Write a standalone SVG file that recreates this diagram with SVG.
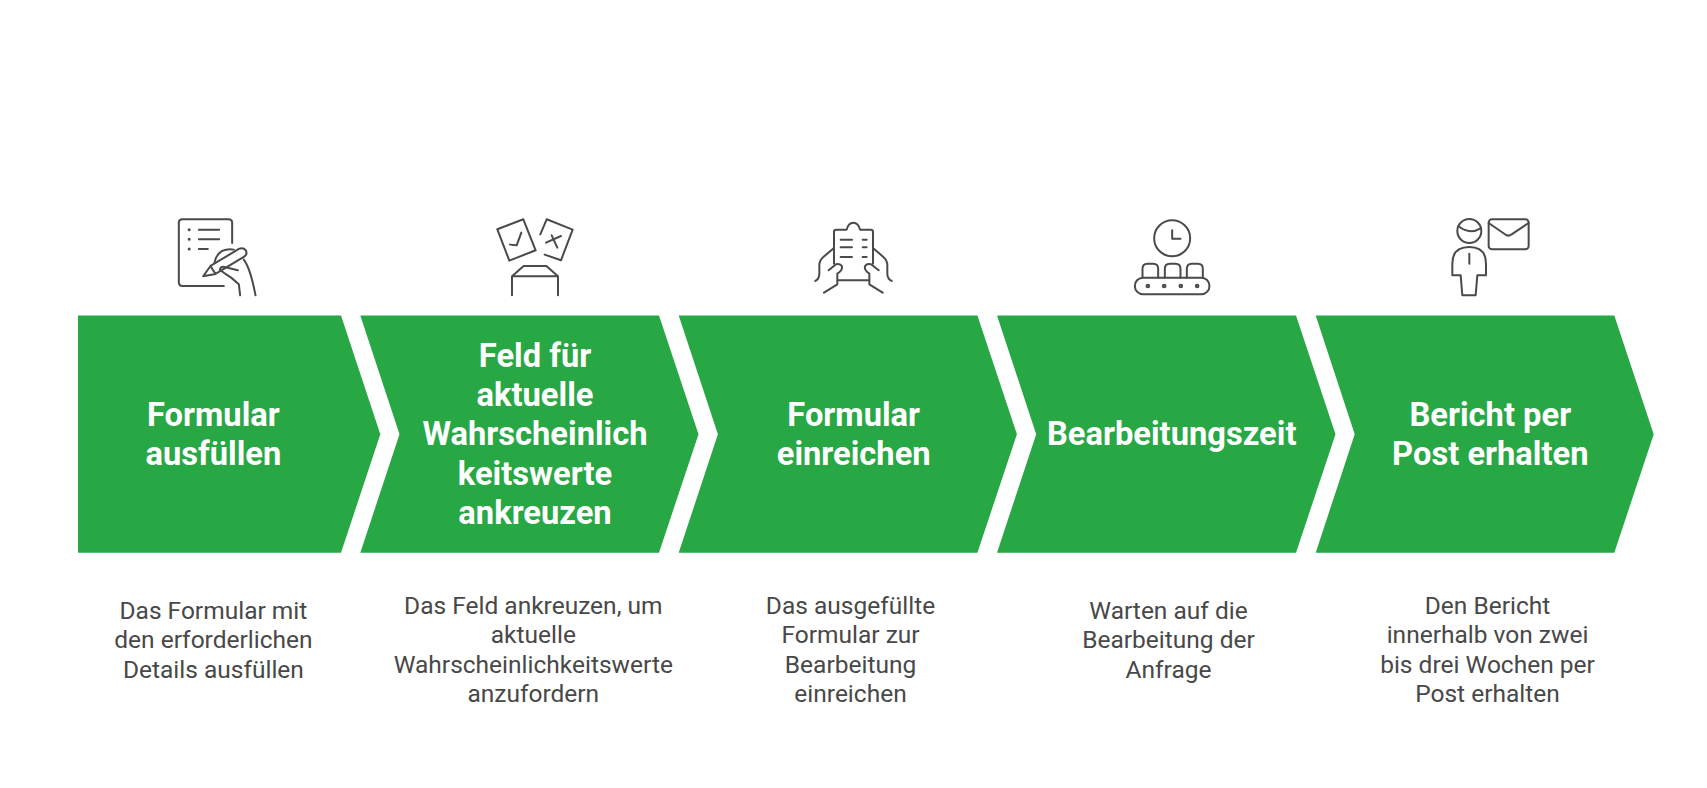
<svg xmlns="http://www.w3.org/2000/svg" width="1707" height="788" viewBox="0 0 1707 788">
<style>
.bg{fill:#fff}
.c{fill:#28a745}
.t{font-family:Roboto,"Liberation Sans",sans-serif;font-size:32.7px;font-weight:700;fill:#fff;text-anchor:middle}
.d{font-family:Roboto,"Liberation Sans",sans-serif;font-size:24.5px;fill:#484848;text-anchor:middle}
.i{fill:none;stroke:#4a4a4a;stroke-width:6;stroke-linecap:round;stroke-linejoin:round}
.dot{stroke-width:9}
</style>
<rect class="bg" width="1707" height="788"/>
<g id="connectors"/>
<g id="node1">
<path class="c" d="M78 315.500H341L380.300 434.300L341 552.700H78Z"/>
<g class="i" transform="translate(160.500 200.300) scale(.3333)">
<path d="M215 128V68Q215 57 204 57H66Q55 57 55 68V246Q55 257 66 257H190"/>
<path class="dot" d="M86 88h.1M86 117h.1M86 146h.1"/>
<path d="M115 88H176M115 117H176M115 146H142"/>
<path d="M128 228L150 197L235 146Q248 140 256 150Q262 162 250 170L165 221ZM150 197L165 221"/>
<path d="M162 188Q165 165 185 152Q200 145 220 148M178 208Q180 198 192 200L232 210M180 210Q195 222 212 232L235 252L239 285M250 178Q270 205 285 285"/>
</g>
<text class="t" x="213.400" y="425.500">Formular</text>
<text class="t" x="213.400" y="465">ausfüllen</text>
<text class="d" x="213.400" y="618.500">Das Formular mit</text>
<text class="d" x="213.400" y="648">den erforderlichen</text>
<text class="d" x="213.400" y="677.500">Details ausfüllen</text>
</g>
<g id="node2">
<path class="c" d="M360.300 315.500H659L698.500 434.300L659 552.700H360.300L399.500 434.300Z"/>
<g class="i" transform="translate(480 200.300) scale(.3333)">
<path d="M52 87L130 57L167 150L88 181Z"/>
<path d="M90 133L110 135L124 97"/>
<path d="M181 102L200 57L278 88L243 180L194 163"/>
<path d="M198 127L243 107M215 105L232 142"/>
<path d="M96 285V228H234V285M96 228L131 197H199L234 228"/>
</g>
<text class="t" x="535" y="366.500">Feld für</text>
<text class="t" x="535" y="405.800">aktuelle</text>
<text class="t" x="535" y="445">Wahrscheinlich</text>
<text class="t" x="535" y="484.500">keitswerte</text>
<text class="t" x="535" y="523.500">ankreuzen</text>
<text class="d" x="533.300" y="613.700">Das Feld ankreuzen, um</text>
<text class="d" x="533.300" y="643.200">aktuelle</text>
<text class="d" x="533.300" y="672.700">Wahrscheinlichkeitswerte</text>
<text class="d" x="533.300" y="702.200">anzufordern</text>
</g>
<g id="node3">
<path class="c" d="M678.700 315.500H977.400L1016.900 434.300L977.400 552.700H678.700L717.900 434.300Z"/>
<g class="i" transform="translate(800 200.300) scale(.3333)">
<path d="M102 190V95Q102 88 109 88H140Q145 67 160 67Q175 67 180 88H212Q219 88 219 95V190M113 240H208"/>
<path d="M122 118H156M122 141H156M122 170H156M188 118H200M188 141H200M188 170H200"/>
<path d="M102 143L70 170Q58 180 58 195V220Q58 235 46 242M86 210L108 192Q120 188 126 198Q128 210 112 220V252L72 277"/>
<path d="M219 143L250 170Q262 180 262 195V220Q262 235 275 242M236 210L213 192Q200 188 195 198Q192 210 208 220V252L248 277"/>
</g>
<text class="t" x="853.700" y="425.500">Formular</text>
<text class="t" x="853.700" y="465">einreichen</text>
<text class="d" x="850.500" y="613.700">Das ausgefüllte</text>
<text class="d" x="850.500" y="643.200">Formular zur</text>
<text class="d" x="850.500" y="672.700">Bearbeitung</text>
<text class="d" x="850.500" y="702.200">einreichen</text>
</g>
<g id="node4">
<path class="c" d="M997 315.500H1296L1335.500 434.300L1296 552.700H997L1036.200 434.300Z"/>
<g class="i" transform="translate(1115.500 200.300) scale(.3333)">
<circle cx="170" cy="114" r="54"/>
<path d="M170 90V115H195"/>
<path d="M81 232V205Q81 190 96 190H113Q128 190 128 205V232M148 232V205Q148 190 163 190H180Q195 190 195 205V232M214 232V205Q214 190 229 190H247Q262 190 262 205V232"/>
<rect x="58" y="232" width="224" height="50" rx="25"/>
<circle cx="97" cy="257" r="4"/><circle cx="146" cy="257" r="4"/><circle cx="196" cy="257" r="4"/><circle cx="245" cy="257" r="4"/>
</g>
<text class="t" x="1171.700" y="445">Bearbeitungszeit</text>
<text class="d" x="1168.500" y="618.500">Warten auf die</text>
<text class="d" x="1168.500" y="648">Bearbeitung der</text>
<text class="d" x="1168.500" y="677.500">Anfrage</text>
</g>
<g id="node5">
<path class="c" d="M1315.700 315.500H1614.300L1653.700 434.300L1614.300 552.700H1315.700L1354.700 434.300Z"/>
<g class="i" transform="translate(1430 200.300) scale(.3333)">
<circle cx="118" cy="92" r="36"/>
<path d="M86 78Q118 104 152 84"/>
<path d="M97 285L92 225H67V190Q67 140 118 140Q168 140 168 190V225H142L137 285ZM118 160V190"/>
<rect x="176" y="57" width="120" height="90" rx="10"/>
<path d="M176 68L225 102Q235 110 245 102L296 68"/>
</g>
<text class="t" x="1490.300" y="425.500">Bericht per</text>
<text class="t" x="1490.300" y="465">Post erhalten</text>
<text class="d" x="1487.500" y="613.700">Den Bericht</text>
<text class="d" x="1487.500" y="643.200">innerhalb von zwei</text>
<text class="d" x="1487.500" y="672.700">bis drei Wochen per</text>
<text class="d" x="1487.500" y="702.200">Post erhalten</text>
</g>
</svg>
